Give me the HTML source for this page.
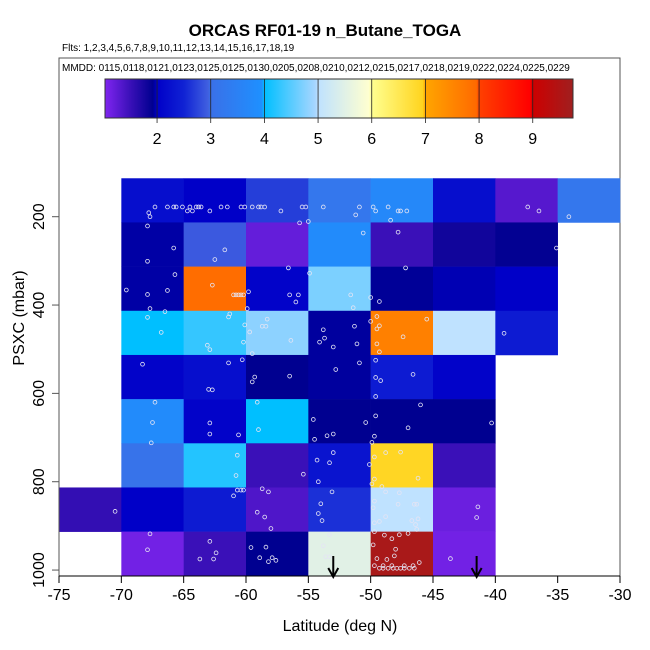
<!DOCTYPE html>
<html><head><meta charset="utf-8"><style>
html,body{margin:0;padding:0;background:#fff;}
svg{display:block;font-family:"Liberation Sans",sans-serif;}
</style></head><body>
<svg id="chart" width="650" height="650" xmlns="http://www.w3.org/2000/svg">
<text x="325" y="36" text-anchor="middle" font-size="17" font-weight="bold">ORCAS RF01-19 n_Butane_TOGA</text>
<text x="62" y="51" font-size="10">Flts: 1,2,3,4,5,6,7,8,9,10,11,12,13,14,15,16,17,18,19</text>
<rect x="59" y="58" width="561" height="518" fill="none" stroke="#555" stroke-width="1"/>
<text x="62" y="71" font-size="10">MMDD: 0115,0118,0121,0123,0125,0125,0130,0205,0208,0210,0212,0215,0217,0218,0219,0222,0224,0225,0229</text>
<g id="cbar"></g>
<g id="cells"></g>
<g id="pts"></g>
<g id="axes"></g>
<text x="340" y="631" text-anchor="middle" font-size="16">Latitude (deg N)</text>
<text transform="translate(24,318) rotate(-90)" text-anchor="middle" font-size="16">PSXC (mbar)</text>
</svg>
<script>
const latEdges = [-75,-70,-65,-60,-55,-50,-45,-40,-35,-30];
const presEdges = [113,213,313,413,513,613,713,813,913,1013];
const cellValues = [
 [null,2.2,2.0,2.7,3.2,3.7,2.2,1.3,3.2],
 [null,1.95,2.9,1.2,3.8,1.5,1.8,1.9,null],
 [null,1.95,7.9,2.05,4.7,1.93,1.97,2.0,null],
 [null,4.0,4.3,4.8,1.94,7.6,5.0,2.4,null],
 [null,2.05,2.2,1.92,1.94,2.4,2.05,null,null],
 [null,3.8,2.05,4.0,1.92,1.92,1.92,null,null],
 [null,3.1,4.2,1.5,2.3,6.9,1.5,null,null],
 [1.55,2.0,2.4,1.35,2.6,5.0,1.15,null,null],
 [null,1.1,1.5,1.92,5.5,9.6,1.1,null,null]
];
const ptLat = [-67.3,-66.3,-65.8,-65.6,-65.1,-64.5,-64.0,-63.8,-63.6,-62.0,-61.5,-60.4,-60.1,-59.5,-59.0,-58.8,-58.5,-55.5,-55.2,-53.8,-50.9,-49.8,-48.6,-37.4,
 -64.7,-64.3,-62.9,-57.2,-49.6,-47.8,-47.6,-47.1,-36.5,-67.8,-67.7,-51.2,-48.4,-34.1,-55.7,-55.0,
 -67.9,-65.8,-67.9,-61.7,-62.5,-50.6,-47.8,-35.1,
 -56.6,-54.9,-47.2,-65.7,-69.6,-67.9,-66.3,-62.7,-61.0,-60.8,-60.6,-60.4,-60.2,-59.8,-56.5,-55.8,-56.0,-51.6,-50.0,-49.3,-51.4,-67.7,-66.5,-59.9,
 -67.9,-66.8,-61.3,-61.4,-58.3,-60.1,-58.7,-58.4,-59.7,-56.4,-60.2,-63.1,-62.9,-59.5,-53.8,-51.3,-53.7,-54.1,-53.0,-51.1,-50.0,-49.5,-49.3,-49.5,-45.5,-47.4,-49.5,-49.3,-39.3,
 -68.3,-61.4,-60.3,-63.0,-62.7,-59.3,-59.5,-56.5,-52.8,-50.9,-49.6,-46.6,-49.6,-49.2,-49.6,
 -67.3,-67.5,-67.6,-59.1,-59.0,-62.9,-62.9,-60.6,-54.6,-54.5,-53.5,-53.0,-50.4,-49.6,-49.7,-47.0,-46.0,-40.3,-49.9,
 -53.0,-54.3,-53.3,-54.2,-50.1,-49.7,-48.8,-47.6,-46.2,-49.7,-49.9,-49.1,-60.7,-60.8,-55.4,
 -60.7,-60.4,-60.2,-61.0,-58.7,-58.2,-59.1,-58.5,-58.0,-70.5,-53.1,-54.0,-54.2,-53.9,-48.8,-47.7,-49.7,-47.8,-46.5,-46.3,-49.8,-48.8,-49.7,-49.3,-46.7,-46.2,-46.4,-46.3,-49.7,-41.4,-41.5,
 -67.7,-67.9,-62.9,-62.4,-63.7,-62.6,-59.6,-58.4,-58.9,-57.9,-58.2,-57.6,-53.3,-53.8,-53.6,-53.3,-48.9,-48.3,-47.7,-47.0,-49.8,-48.0,-48.1,-49.5,-48.7,-46.1,
 -49.3,-49.0,-48.6,-48.2,-47.9,-47.6,-47.3,-46.9,-46.5,-49.7,-49.0,-48.3,-47.3,-46.6,-43.6];
const ptPres = [178,178,178,178,178,178,178,178,178,178,178,178,178,178,178,178,178,178,178,178,178,178,178,178,
 187,187,187,187,187,187,187,187,187,191,200,196,208,200,214,211,
 221,271,301,275,297,237,235,271,
 316,328,316,331,366,376,367,355,377,377,377,377,377,370,377,377,393,377,383,392,406,408,415,408,
 428,462,420,427,432,445,448,448,461,480,484,491,501,510,456,448,475,484,495,488,437,426,447,454,432,472,488,506,464,
 534,531,524,591,592,563,574,561,546,531,525,557,564,571,607,
 620,666,712,620,682,667,692,694,659,704,696,692,666,651,697,678,626,667,711,
 734,751,757,800,761,744,734,733,792,794,805,811,740,786,783,
 819,819,819,832,816,823,869,880,906,867,823,850,872,888,823,825,844,851,851,851,859,879,893,890,888,884,897,908,913,857,881,
 918,954,935,961,975,975,949,948,972,972,981,978,920,945,970,970,921,929,920,917,943,953,968,974,976,983,
 996,996,996,996,996,996,996,996,996,990,990,990,990,990,974];
const arrowLat = [-53,-41.5];
const xTicks = [-75,-70,-65,-60,-55,-50,-45,-40,-35,-30];
const yTicks = [200,400,600,800,1000];
const cbarTicks = [2,3,4,5,6,7,8,9];

const NS = "http://www.w3.org/2000/svg";
const X0=59, X1=620;
function xS(lat){return X0+(lat+75)/45*(X1-X0);}
function yS(p){return 216.7+(p-200)*0.4417;}
const stops=[[1.0,"#8025f0"],[1.5,"#3a10b8"],[1.92,"#000090"],[2.0,"#0000c8"],[2.5,"#1022d4"],[2.95,"#4060e0"],[3.0,"#3a70e8"],[3.95,"#1e90ff"],[4.0,"#00bfff"],[4.95,"#a8d6ff"],[5.0,"#bfe2ff"],[5.95,"#ffffd0"],[6.0,"#ffff90"],[6.95,"#ffd41e"],[7.0,"#ffa500"],[7.95,"#ff6a00"],[8.0,"#ff4000"],[8.95,"#ff0000"],[9.0,"#cd0000"],[9.75,"#a01f1f"]];
function hex(c){return [1,3,5].map(i=>parseInt(c.substr(i,2),16));}
function colorOf(v){
 if(v<=stops[0][0])return stops[0][1];
 for(let i=1;i<stops.length;i++){if(v<=stops[i][0]){const a=stops[i-1],b=stops[i];const t=(v-a[0])/(b[0]-a[0]);const ca=hex(a[1]),cb=hex(b[1]);return "rgb("+ca.map((c,k)=>Math.round(c+(cb[k]-c)*t)).join(",")+")";}}
 return stops[stops.length-1][1];
}
function mk(tag,attrs,parent){const e=document.createElementNS(NS,tag);for(const k in attrs)e.setAttribute(k,attrs[k]);parent.appendChild(e);return e;}

const cb=document.getElementById('cbar');
const CB0=105,CB1=573,CBV0=1.03,CBV1=9.75;
function cbx(v){return CB0+(v-CBV0)/(CBV1-CBV0)*(CB1-CB0);}
const grad=mk('linearGradient',{id:'cg',x1:'0',x2:'1',y1:'0',y2:'0'},mk('defs',{},cb));
stops.forEach(s=>{mk('stop',{offset:((s[0]-CBV0)/(CBV1-CBV0)).toFixed(4),'stop-color':s[1]},grad);});
const cbr=mk('rect',{x:CB0,y:79,width:CB1-CB0,height:39,fill:'url(#cg)',stroke:'#333','stroke-width':1},cb);


cbarTicks.forEach(t=>{
 const l=mk('line',{x1:cbx(t),x2:cbx(t),y1:79,y2:123,stroke:'#222','stroke-width':0.8},cb);
 
 
 const tx=mk('text',{x:cbx(t),y:144,'text-anchor':'middle','font-size':16},cb);
 tx.textContent=t;
 
 
});

const cg=document.getElementById('cells');
cellValues.forEach((row,r)=>row.forEach((v,c)=>{
 if(v===null)return;
 const x=xS(latEdges[c]),x2=xS(latEdges[c+1]),y=yS(presEdges[r]),y2=yS(presEdges[r+1]);
 const e=mk('rect',{x:x,y:y,width:x2-x+0.3,height:y2-y+0.3,fill:colorOf(v)},cg);
 
 
}));

const pg=document.getElementById('pts');
ptLat.forEach((la,i)=>{
 const e=mk('circle',{cx:xS(la),cy:yS(ptPres[i]),r:1.9,fill:'none',stroke:'#e4e4f4','stroke-width':0.8},pg);
 
 
});

const ag=document.getElementById('axes');
mk('line',{x1:X0,x2:X1,y1:576,y2:576,stroke:'#000','stroke-width':1},ag);
mk('line',{x1:X0,x2:X0,y1:yS(200),y2:yS(1000),stroke:'#555','stroke-width':1},ag);
xTicks.forEach(t=>{
 mk('line',{x1:xS(t),x2:xS(t),y1:576,y2:583,stroke:'#000'},ag);
 const tx=mk('text',{x:xS(t),y:600,'text-anchor':'middle','font-size':16},ag);
 tx.textContent=t;
 
 
});
yTicks.forEach(t=>{
 mk('line',{x1:X0,x2:X0-7,y1:yS(t),y2:yS(t),stroke:'#555'},ag);
 const tx=mk('text',{'text-anchor':'middle','font-size':16,transform:'translate(44,'+yS(t)+') rotate(-90)'},ag);
 tx.textContent=t;
 
 
});
arrowLat.forEach(la=>{
 const x=xS(la);
 const l=mk('line',{x1:x,x2:x,y1:556,y2:576,stroke:'#000','stroke-width':2},ag);
 
 
 mk('path',{d:'M'+(x-5)+' 568 L'+x+' 577 L'+(x+5)+' 568',fill:'none',stroke:'#000','stroke-width':2},ag);
});
</script>
</body></html>
